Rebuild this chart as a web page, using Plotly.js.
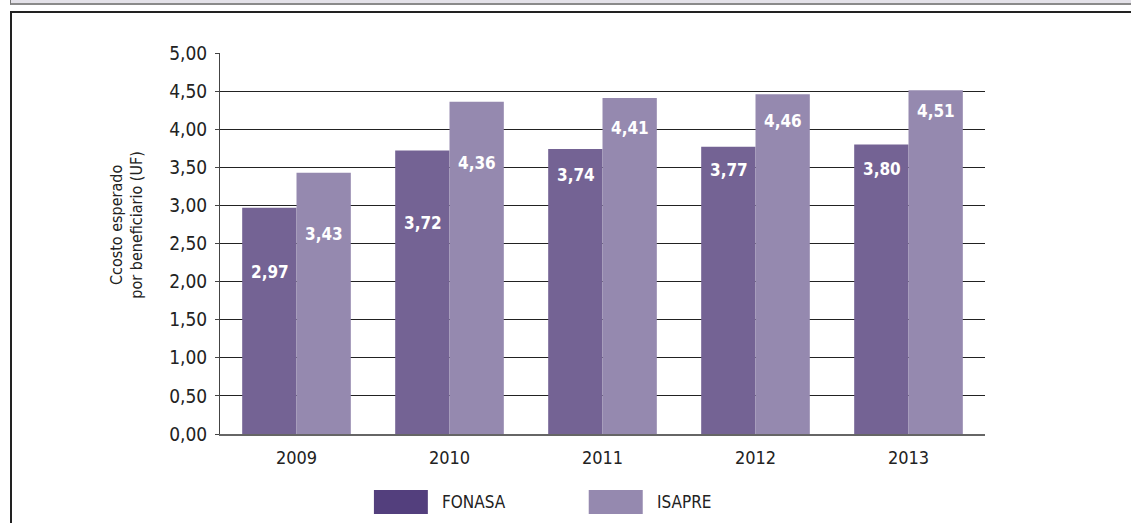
<!DOCTYPE html>
<html>
<head>
<meta charset="utf-8">
<script src="https://cdn.plot.ly/plotly-3.0.1.min.js"></script>
<style>
  html, body { margin: 0; padding: 0; background: #ffffff; }
  #wrap { position: relative; width: 1131px; height: 523px; overflow: hidden; }
  #strip { position: absolute; left: 10px; top: 0; width: 1121px; height: 3px; background: #e3e1e8; border-left: 1px solid #777; border-bottom: 2px solid #8a8a8a; }
  #frame { position: absolute; left: 10px; top: 11px; width: 1125px; height: 520px; border-left: 2px solid #222; border-top: 2px solid #222; }
  #chart { position: absolute; left: 0; top: 0; width: 1131px; height: 523px; }
</style>
</head>
<body>
<div id="wrap">
  <div id="strip"></div>
  <div id="frame"></div>
  <div id="chart"></div>
</div>
<script>
// ---- data ----
const years = ['2009', '2010', '2011', '2012', '2013'];
const fonasa = [2.97, 3.72, 3.74, 3.77, 3.80];
const isapre = [3.43, 4.36, 4.41, 4.46, 4.51];
const seriesNames = ['FONASA', 'ISAPRE'];
const yTickVals = [0, 0.5, 1, 1.5, 2, 2.5, 3, 3.5, 4, 4.5, 5];
const yTitleLines = ['Ccosto esperado', 'por beneficiario (UF)'];

// ---- style ----
const FONT = '"Liberation Sans Narrow", "Arial Narrow", "DejaVu Sans Condensed", sans-serif';
const barColors = ['#746394', '#9589af'];
const legendColors = ['#533f7d', '#9589af'];
const labelDropF = [64, 72, 26, 23, 25];
const labelDropI = [61, 61, 30, 27, 21];
const halfBar = 27;

const fmt = v => v.toFixed(2).replace('.', ',');

const traces = [
  { type: 'bar', name: seriesNames[0], x: years, y: fonasa, marker: { color: barColors[0] }, showlegend: false, hoverinfo: 'none' },
  { type: 'bar', name: seriesNames[1], x: years, y: isapre, marker: { color: barColors[1] }, showlegend: false, hoverinfo: 'none' }
];

const annotations = [];
years.forEach((yr, i) => {
  // category index i is used as the x position of category years[i]
  annotations.push({ x: i, y: fonasa[i], xref: 'x', yref: 'y', text: '<b>' + fmt(fonasa[i]) + '</b>', showarrow: false,
    xshift: -halfBar, yshift: -labelDropF[i], yanchor: 'middle', font: { family: FONT, size: 17, color: '#ffffff' } });
  annotations.push({ x: i, y: isapre[i], xref: 'x', yref: 'y', text: '<b>' + fmt(isapre[i]) + '</b>', showarrow: false,
    xshift: halfBar, yshift: -labelDropI[i], yanchor: 'middle', font: { family: FONT, size: 17, color: '#ffffff' } });
});

// y-axis title
annotations.push({ xref: 'paper', yref: 'paper', x: -0.122, y: 0.5486, textangle: -90, showarrow: false,
  text: yTitleLines.join('<br>'), xanchor: 'center', yanchor: 'middle', align: 'center',
  font: { family: FONT, size: 16, color: '#222222' } });

// legend (custom, large swatches)
const legendItems = [
  { x0: 0.2012, x1: 0.2717, tx: 0.2874 },
  { x0: 0.4820, x1: 0.5526, tx: 0.5680 }
];
const shapes = [];
legendItems.forEach((it, k) => {
  shapes.push({ type: 'rect', xref: 'paper', yref: 'paper', x0: it.x0, x1: it.x1, y0: -0.210, y1: -0.147,
    fillcolor: legendColors[k], line: { width: 0 } });
  annotations.push({ xref: 'paper', yref: 'paper', x: it.tx, y: -0.1785, text: seriesNames[k], showarrow: false,
    xanchor: 'left', yanchor: 'middle', font: { family: FONT, size: 17, color: '#222222' } });
});

const layout = {
  width: 1131, height: 523,
  margin: { l: 220, r: 145.5, t: 53, b: 89, pad: 0 },
  paper_bgcolor: 'rgba(0,0,0,0)',
  plot_bgcolor: 'rgba(0,0,0,0)',
  separators: ',.',
  barmode: 'group',
  bargap: 0.29,
  bargroupgap: 0,
  showlegend: false,
  font: { family: FONT, color: '#222222' },
  xaxis: {
    type: 'category', range: [-0.5, years.length - 0.5], showgrid: false, zeroline: false,
    showline: true, linecolor: '#666666', linewidth: 2,
    ticks: '', ticklabelstandoff: 6,
    tickfont: { family: FONT, size: 18, color: '#222222' }
  },
  yaxis: {
    range: [0, 5], tickvals: yTickVals, tickformat: '.2f',
    showgrid: true, gridcolor: '#222222', gridwidth: 1,
    zeroline: false, showline: true, linecolor: '#444444', linewidth: 1,
    ticks: 'outside', ticklen: 4, tickcolor: '#444444', ticklabelstandoff: 4,
    tickfont: { family: FONT, size: 19, color: '#222222' }
  },
  shapes: shapes,
  annotations: annotations
};

Plotly.newPlot('chart', traces, layout, { displayModeBar: false, staticPlot: true });
</script>
</body>
</html>
